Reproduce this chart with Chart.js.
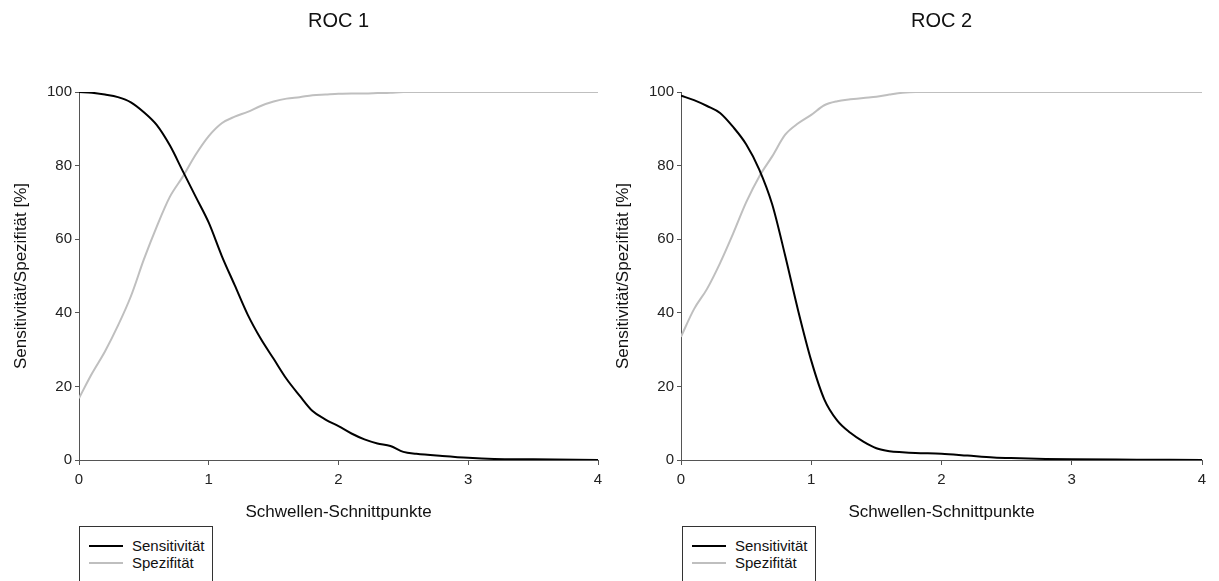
<!DOCTYPE html>
<html>
<head>
<meta charset="utf-8">
<script src="https://cdn.jsdelivr.net/npm/chart.js@4"></script>
<style>
  body { margin: 0; background: #fff; width: 1219px; height: 581px; overflow: hidden; position: relative; font-family: 'Liberation Sans', Arial, sans-serif; }
  .box { position: absolute; top: 0; height: 530px; }
  .legend { position: absolute; top: 526px; width: 132px; height: 80px; border: 1px solid #333; background: #fff; }
  .legend .row { position: absolute; left: 0; height: 16px; font-size: 15px; line-height: 16px; color: #111; }
  .legend .row span.ln { position: absolute; left: 9px; top: 7px; width: 34px; height: 2px; }
  .legend .row span.tx { position: absolute; left: 52px; top: 0; white-space: nowrap; }
</style>
</head>
<body>
<div class="box" style="left:0;width:610px"><canvas id="roc1"></canvas></div>
<div class="box" style="left:602px;width:617px"><canvas id="roc2"></canvas></div>
<div class="legend" id="leg1" style="left:79px"></div>
<div class="legend" id="leg2" style="left:682px"></div>
<script>
// ROC 1
const roc1X    = [0, 0.1, 0.2, 0.3, 0.4, 0.5, 0.6, 0.7, 0.8, 0.9, 1.0, 1.1, 1.2, 1.3, 1.4, 1.5, 1.6, 1.7, 1.8, 1.9, 2.0, 2.1, 2.2, 2.3, 2.4, 2.5, 2.6, 2.8, 3.0, 3.2, 3.5, 4.0];
const roc1Sens = [100, 99.8, 99.3, 98.6, 97.2, 94.5, 91, 85.5, 78.5, 71.5, 64.5, 55.5, 47.5, 39.5, 33, 27.5, 22, 17.5, 13.3, 11, 9.2, 7.2, 5.6, 4.5, 3.8, 2.2, 1.7, 1.1, 0.6, 0.3, 0.2, 0];
const roc1Spec = [16.8, 23.5, 29.5, 36.5, 44.5, 54.5, 63.5, 71.5, 77, 83, 88, 91.5, 93.3, 94.6, 96.2, 97.4, 98.2, 98.6, 99.1, 99.3, 99.5, 99.6, 99.6, 99.7, 99.8, 100, 100, 100, 100, 100, 100, 100];

// ROC 2
const roc2X    = [0, 0.1, 0.2, 0.3, 0.4, 0.5, 0.6, 0.7, 0.8, 0.9, 1.0, 1.1, 1.2, 1.3, 1.4, 1.5, 1.6, 1.7, 1.8, 2.0, 2.2, 2.4, 2.6, 2.8, 3.0, 3.5, 4.0];
const roc2Sens = [99, 97.8, 96.2, 94.3, 90.5, 85.8, 79, 69.5, 55.5, 40.5, 27, 16.5, 10.7, 7.4, 5, 3.2, 2.4, 2.1, 1.9, 1.7, 1.2, 0.7, 0.5, 0.3, 0.2, 0.1, 0];
const roc2Spec = [33.5, 41, 46.5, 53.5, 61.5, 70, 77, 82.5, 88.4, 91.5, 93.8, 96.4, 97.5, 98, 98.4, 98.7, 99.3, 99.8, 100, 100, 100, 100, 100, 100, 100, 100, 100];

const seriesNames = ['Sensitivität', 'Spezifität'];
const seriesColors = ['#000000', '#bfbfbf'];
const xTitle = 'Schwellen-Schnittpunkte';
const yTitle = 'Sensitivität/Spezifität [%]';

const FONT = "'Liberation Sans', Arial, sans-serif";
const AXIS = '#555555';

function pts(xs, ys) {
  return xs.map((x, i) => ({ x: x, y: ys[i] }));
}

function makeChart(id, title, xs, sens, spec, padRight) {
  return new Chart(id, {
    type: 'line',
    data: {
      datasets: [
        { label: seriesNames[0], data: pts(xs, sens), borderColor: seriesColors[0], borderWidth: 2, pointRadius: 0, cubicInterpolationMode: 'monotone' },
        { label: seriesNames[1], data: pts(xs, spec), borderColor: seriesColors[1], borderWidth: 2, pointRadius: 0, cubicInterpolationMode: 'monotone' },
      ],
    },
    options: {
      responsive: true,
      maintainAspectRatio: false,
      animation: false,
      layout: { padding: { left: 0, right: padRight, top: 0, bottom: 0 } },
      plugins: {
        legend: { display: false },
        tooltip: { enabled: false },
        title: {
          display: true,
          text: title,
          fullSize: false,
          color: '#111',
          font: { family: FONT, size: 20, weight: 'normal' },
          padding: { top: 9, bottom: 59 },
        },
      },
      scales: {
        x: {
          type: 'linear',
          min: 0,
          max: 4,
          ticks: { stepSize: 1, color: '#222', font: { family: FONT, size: 15 }, padding: 6 },
          grid: { display: true, drawOnChartArea: false, drawTicks: true, tickLength: 5, color: AXIS },
          border: { display: true, color: AXIS, width: 1 },
          title: { display: true, text: xTitle, color: '#111', font: { family: FONT, size: 17 }, padding: { top: 0, bottom: 7 } },
          afterFit: (s) => { s.height = 70; },
        },
        y: {
          min: 0,
          max: 100,
          ticks: { stepSize: 20, color: '#222', font: { family: FONT, size: 15 }, padding: 3 },
          grid: { display: true, drawOnChartArea: false, drawTicks: true, tickLength: 4, color: AXIS },
          border: { display: true, color: AXIS, width: 1 },
          title: { display: true, text: yTitle, color: '#111', font: { family: FONT, size: 17 }, padding: { top: 11, bottom: 0 } },
          afterFit: (s) => { s.width = 79; },
        },
      },
    },
  });
}

function makeLegend(elId) {
  const el = document.getElementById(elId);
  seriesNames.forEach((name, i) => {
    const row = document.createElement('div');
    row.className = 'row';
    row.style.top = (11 + i * 16.5) + 'px';
    row.innerHTML = '<span class="ln" style="background:' + seriesColors[i] + '"></span><span class="tx">' + name + '</span>';
    el.appendChild(row);
  });
}

makeChart('roc1', 'ROC 1', roc1X, roc1Sens, roc1Spec, 12);
makeChart('roc2', 'ROC 2', roc2X, roc2Sens, roc2Spec, 17);
makeLegend('leg1');
makeLegend('leg2');
</script>
</body>
</html>
